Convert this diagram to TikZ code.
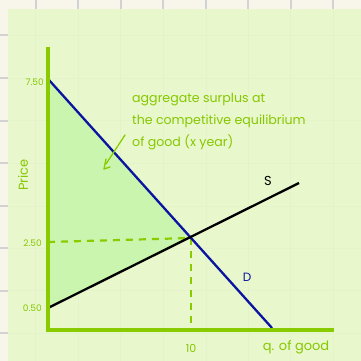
\documentclass[tikz,border=0pt]{standalone}
\usepackage{fontspec}
\setmainfont{Poppins}
\definecolor{bgc}{HTML}{F8F6EA}
\definecolor{panel}{HTML}{E8F7CC}
\definecolor{panelgrid}{HTML}{E4F3CA}
\definecolor{gridc}{HTML}{D2D2D2}
\definecolor{axg}{HTML}{88CC00}
\definecolor{txg}{HTML}{86C800}
\definecolor{surplusfill}{HTML}{C9F5AE}
\definecolor{navy}{HTML}{0A14A0}
\tikzset{
  gridline/.style={gridc, line width=2pt},
  faintgrid/.style={panelgrid, line width=0.7pt},
  axisline/.style={axg, line width=3.5pt},
  curve/.style={line width=2.3pt},
  guide/.style={axg, line width=2.2pt, dash pattern=on 7pt off 6pt},
  ticklbl/.style={text=txg, font=\fontsize{9}{10}\selectfont, inner sep=1pt},
  biglbl/.style={text=txg, font=\fontsize{13}{15}\selectfont, inner sep=1pt},
}
\begin{document}
\begin{tikzpicture}[x=1pt,y=-1pt]
\useasboundingbox (0,0) rectangle (361,361);
\fill[bgc] (0,0) rectangle (361,361);
\foreach \g in {35.5,78,120.5,163,206,248,290.5,333}{
  \draw[gridline] (\g,0) -- (\g,361);
  \draw[gridline] (0,\g) -- (361,\g);
}
\fill[panel] (8,9) rectangle (361,361);
\foreach \g in {35.5,78,120.5,163,206,248,290.5,333}{
  \draw[faintgrid] (\g,9) -- (\g,361);
  \draw[faintgrid] (8,\g) -- (361,\g);
}
% key points
\coordinate (top) at (48,47);
\coordinate (orig) at (48,330);
\coordinate (xend) at (334,330);
\coordinate (d0) at (49,80);
\coordinate (d1) at (272,328);
\coordinate (s0) at (48,308);
\coordinate (s1) at (299,183);
\coordinate (eq) at (191,238);
\coordinate (py) at (48,242);
\coordinate (qx) at (191,330);
% shaded surplus
\fill[surplusfill] (d0) -- (eq) -- (s0) -- cycle;
% guides
\draw[guide] (py) -- (eq);
\draw[guide] (eq) -- (qx);
% curves
\draw[curve, navy] (d0) -- (d1);
\draw[curve, black] (s0) -- (s1);
% axes
\draw[axisline] (top) -- (orig) -- (xend);
% labels
\node[ticklbl, anchor=east] (l750) at (45,82) {7.50};
\node[ticklbl, anchor=east] (l250) at (43,243) {2.50};
\node[ticklbl, anchor=east] (l050) at (43,308) {0.50};
\node[biglbl, rotate=90] (price) at (23,175) {Price};
\node[ticklbl, font=\fontsize{11}{12}\selectfont] (l10) at (191,348) {10};
\node[biglbl] (qlbl) at (296,347) {q. of good};
\node[font=\fontsize{13}{15}\selectfont, text=black] (slbl) at (268,181) {S};
\node[font=\fontsize{12}{14}\selectfont, text=navy] (dlbl) at (247,277) {D};
\node[biglbl, align=left, anchor=north west, font=\fontsize{12.6}{22}\selectfont] (note) at (131,92)
  {aggregate surplus at\\the competitive equilibrium\\of good (x year)};
% pointer
\coordinate (pa) at (125,135);
\coordinate (pb) at (106,164);
\draw[axg, line width=1.3pt, line cap=round] (pa) -- (pb);
\coordinate (ha) at (106,159);
\coordinate (hb) at (104,169);
\coordinate (hc) at (110,167);
\draw[axg, line width=1.3pt, line cap=round, line join=round] (ha) -- (hb) -- (hc);
\end{tikzpicture}
\end{document}
